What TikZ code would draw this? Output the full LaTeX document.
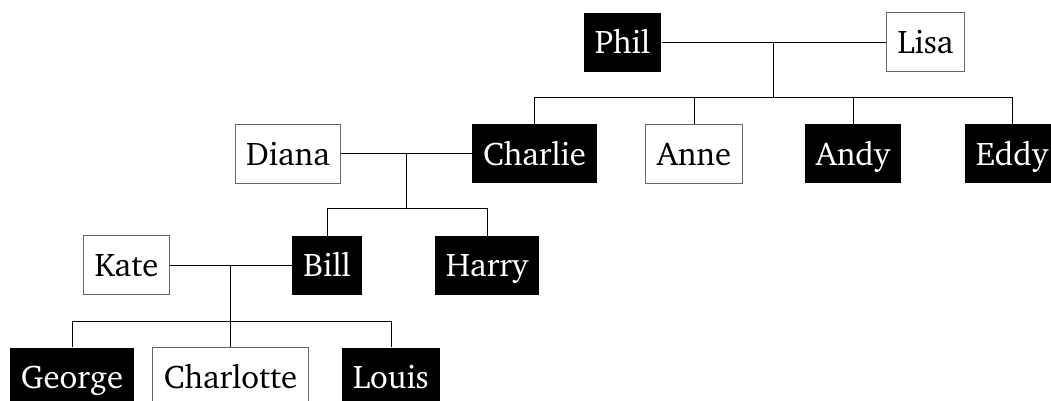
\documentclass[tikz,border=0pt]{standalone}
\usepackage[T1]{fontenc}
\usepackage{charter}
\begin{document}
\begin{tikzpicture}[x=0.5pt, y=-0.5pt,
    person/.style={shape=rectangle, inner xsep=5.5pt, inner ysep=7pt,
      text height=13.5pt, text depth=2pt, font=\fontsize{16.4}{19}\selectfont},
    male/.style={person, fill=black, text=white},
    female/.style={person, draw=black!60, line width=0.5pt},
    line/.style={draw=black, line width=0.5pt}]
    \useasboundingbox (0,0) rectangle (1051,401);
    % generations
    \node[male] (Phil) at (622.5, 42.5) {Phil};
    \node[female] (Lisa) at (925.5, 42.5) {Lisa};
    \node[female] (Diana) at (288, 154) {Diana};
    \node[male] (Charlie) at (534.5, 154) {Charlie};
    \node[female] (Anne) at (694, 154) {Anne};
    \node[male] (Andy) at (853, 154) {Andy};
    \node[male] (Eddy) at (1012, 154) {Eddy};
    \node[female] (Kate) at (126.5, 265.5) {Kate};
    \node[male] (Bill) at (327, 265.5) {Bill};
    \node[male] (Harry) at (487, 265.5) {Harry};
    \node[male] (George) at (72, 377) {George};
    \node[female] (Charlotte) at (230.5, 377) {Charlotte};
    \node[male] (Louis) at (391, 377) {Louis};
    % couples
    \path[line] (Phil) edge node[coordinate] (PL) {} (Lisa);
    \path[line] (Diana) edge node[coordinate] (DC) {} (Charlie);
    \path[line] (Kate) edge node[coordinate] (KB) {} (Bill);
    % children
    \draw[line] (PL) -- (PL |- 0,98);
    \foreach \c in {Charlie,Anne,Andy,Eddy}
        \draw[line] (PL |- 0,98) -| (\c.north);
    \draw[line] (DC) -- (DC |- 0,209);
    \foreach \c in {Bill,Harry}
        \draw[line] (DC |- 0,209) -| (\c.north);
    \draw[line] (KB) -- (KB |- 0,321);
    \foreach \c in {George,Charlotte,Louis}
        \draw[line] (KB |- 0,321) -| (\c.north);
\end{tikzpicture}
\end{document}
